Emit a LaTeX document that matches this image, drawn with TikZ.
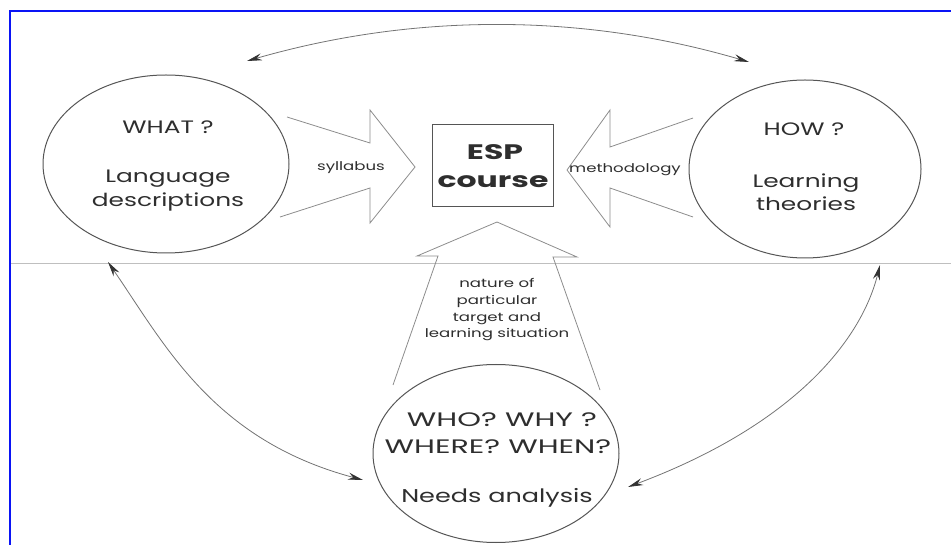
\documentclass[tikz,border=0pt]{standalone}
\usepackage{fontspec}
\setmainfont{Poppins}[FakeStretch=1.38]
\newfontfamily\espfont{Poppins}[FakeStretch=1.5]
\newfontfamily\capsfont{Poppins}[FakeStretch=1.55]
\usetikzlibrary{shapes.geometric,arrows.meta}
\definecolor{inkline}{HTML}{555555}
\definecolor{inktext}{HTML}{2E2E2E}
\definecolor{framblue}{HTML}{0A14F5}
\tikzset{
  bubble/.style={draw=inkline, line width=1.0pt, ellipse, minimum width=246pt, minimum height=178pt, inner sep=0pt},
  blockarrow/.style={draw=black!45, line width=0.8pt, line join=miter},
  link/.style={draw=black!55, line width=0.8pt,
    {Stealth[length=15pt,width=7pt,color=black!80]}-{Stealth[length=15pt,width=7pt,color=black!80]}},
  big/.style={font=\fontsize{18}{22}\selectfont, text=inktext, anchor=base, inner sep=0pt},
  bigcaps/.style={font=\capsfont\fontsize{19.5}{24}\selectfont, text=inktext, anchor=base, inner sep=0pt},
  bigger/.style={font=\fontsize{18.5}{24}\selectfont, text=inktext, anchor=base, inner sep=0pt},
  small/.style={font=\fontsize{12}{16}\selectfont, text=inktext, anchor=base, inner sep=0pt},
  esptext/.style={font=\espfont\bfseries\fontsize{21}{25}\selectfont, text=inktext, anchor=base, inner sep=0pt},
  frame/.style={draw=framblue, line width=2pt}
}
\begin{document}
\begin{tikzpicture}[x=1pt,y=-1pt]
\useasboundingbox (0,0) rectangle (951,545);
% scan line
\draw[black!25, line width=0.6pt] (10,263) -- (951,263);
% frame
\draw[frame] (10,500) -- (10,11) -- (951,11);
\draw[draw=framblue, line width=1.2pt] (10,500) -- (10,545);

% circles and box
\node[bubble] (what) at (166,164) {};
\node[bubble, minimum width=232pt] (how) at (805,169) {};
\node[bubble] (who) at (496,453.5) {};
\node[draw=inkline, line width=1pt, minimum width=121pt, minimum height=82pt, inner sep=0pt] (esp) at (492.5,166) {};

% texts in circles
\node[big] (w1) at (168,134) {WHAT ?};
\node[big] (w2) at (168,183) {Language};
\node[big] (w3) at (168,207) {descriptions};
\node[big] (h1) at (804,136) {HOW ?};
\node[big] (h2) at (806,188) {Learning};
\node[big] (h3) at (806,211) {theories};
\node[bigcaps] (n1) at (502,427) {WHO? WHY ?};
\node[bigcaps] (n2) at (498,453) {WHERE? WHEN?};
\node[bigger] (n3) at (497,502) {Needs analysis};
\node[esptext] (e1) at (495,160) {ESP};
\node[esptext] (e2) at (493,188) {course};

% block arrows
\draw[blockarrow] (287,117) -- (370,143) -- (370,110) -- (415,167) -- (370,223) -- (370,188) -- (280,217);
\draw[blockarrow] (693,118) -- (610,147) -- (610,110) -- (567,170) -- (610,227) -- (610,188) -- (693,217);
\draw[blockarrow] (393,385) -- (438,256) -- (417,256) -- (497,222) -- (577,257) -- (553,257) -- (600,390);

% labels on block arrows
\node[small] (s1) at (351,171) {syllabus};
\node[small] (s2) at (625,173) {methodology};
\node[small] (s3) at (497,288) {nature of};
\node[small] (s4) at (497,305) {particular};
\node[small] (s5) at (497,322) {target and};
\node[small] (s6) at (497,338) {learning situation};

% curved links
\coordinate (tl) at (247,61);
\coordinate (tr) at (749,62);
\draw[link] (tl) .. controls (414,13) and (582,13) .. (tr);
\coordinate (la) at (108,262);
\coordinate (lb) at (363,480);
\draw[link] (la) .. controls (165,345) and (213,440) .. (lb);
\coordinate (ra) at (880,265);
\coordinate (rb) at (628,487);
\draw[link] (ra) .. controls (860,345) and (788,427) .. (rb);
\end{tikzpicture}
\end{document}
